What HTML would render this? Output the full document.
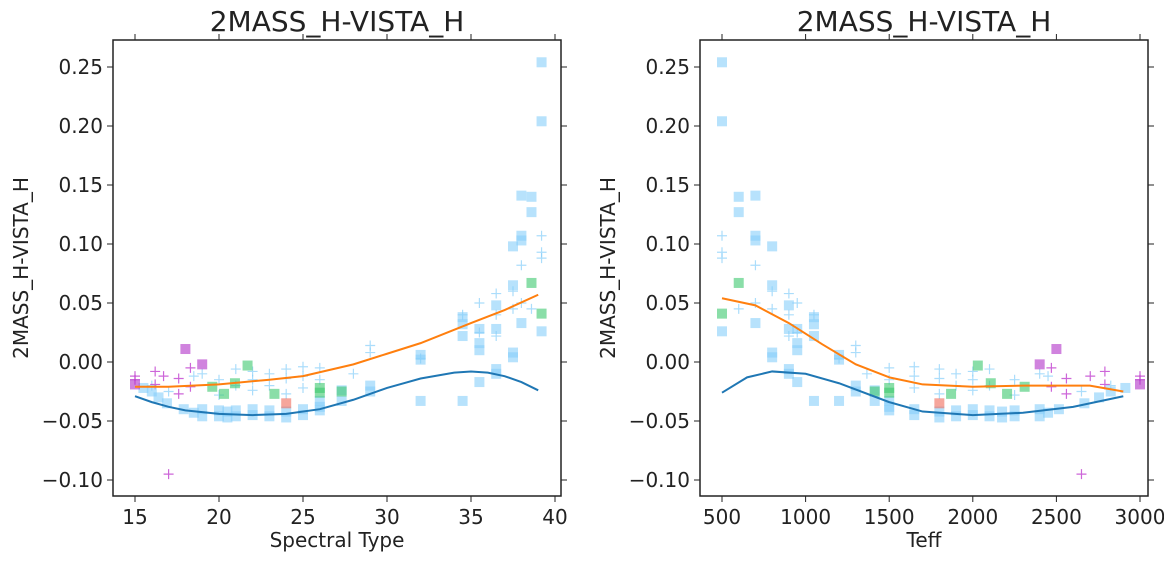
<!DOCTYPE html>
<html><head><meta charset="utf-8"><style>
body{margin:0;background:#fff;}
svg text{font-family:"DejaVu Sans","Liberation Sans",sans-serif;fill:#222;}
</style></head><body>
<svg id="chart" width="1164" height="560" xmlns="http://www.w3.org/2000/svg"></svg>
<script>
// ---- data (left panel: spectral type) ----
const sqSpt = [15.5,16,16.4,16.9,17.9,18.5,19,19,20,20,20.5,20.5,21,21,22,22,23,23,24,24,25,25,26,26,26,27.3,27.3,29,29,32,32,32,34.5,34.5,34.5,34.5,35.5,35.5,35.5,35.5,36.5,36.5,36.5,36.5,37.5,37.5,37.5,37.5,38,38,38,38,38.6,38.6,39.2,39.2,39.2];
const sqVal = [-0.022,-0.025,-0.03,-0.035,-0.04,-0.043,-0.04,-0.046,-0.041,-0.046,-0.042,-0.047,-0.041,-0.046,-0.04,-0.045,-0.041,-0.046,-0.042,-0.047,-0.04,-0.045,-0.033,-0.038,-0.041,-0.024,-0.033,-0.02,-0.025,0.006,0.002,-0.033,0.038,0.032,0.022,-0.033,0.028,0.016,0.01,-0.017,0.048,0.028,-0.006,-0.01,0.098,0.065,0.008,0.004,0.141,0.107,0.103,0.033,0.14,0.127,0.254,0.204,0.026];
const grSpt = [19.6,20.3,20.95,21.7,23.3,26,26,27.3,38.6,39.2];
const grVal = [-0.021,-0.027,-0.018,-0.003,-0.027,-0.022,-0.026,-0.025,0.067,0.041];
const mgSpt = [15,18,19];
const mgVal = [-0.019,0.011,-0.002];
const rdSpt = [24];
const rdVal = [-0.035];
const plSpt = [16,17,18.5,19,20,20,21,21,22,22,22,23,23,24,24,24,25,25,25,26,26,28,29,29,32,34.5,35.5,35.5,36.5,36.5,36.5,37.5,37.5,38,38,38.6,39.2,39.2,39.2];
const plVal = [-0.02,-0.025,-0.012,-0.01,-0.015,-0.028,-0.006,-0.02,-0.008,-0.015,-0.024,-0.01,-0.02,-0.006,-0.014,-0.027,-0.004,-0.012,-0.022,-0.015,-0.005,-0.01,0.014,0.008,0.003,0.04,0.05,0.025,0.058,0.04,0.022,0.06,0.045,0.082,0.05,0.045,0.107,0.093,0.088];
const pmSpt = [15,15,16.2,16.2,16.7,17.6,17.6,18.3,18.3,17];
const pmVal = [-0.015,-0.012,-0.008,-0.019,-0.012,-0.014,-0.027,-0.005,-0.021,-0.095];
const blueSpt = [15,16,17,18,20,22,24,26,28,30,32,34,35,36,37,38,39];
const blueVal = [-0.029,-0.034,-0.038,-0.041,-0.044,-0.045,-0.044,-0.04,-0.032,-0.022,-0.014,-0.009,-0.008,-0.009,-0.012,-0.017,-0.024];
const orSpt = [15,17,20,23,25,28,30,32,35,37,39];
const orVal = [-0.021,-0.021,-0.019,-0.015,-0.012,-0.002,0.007,0.016,0.033,0.044,0.057];
// spectral type -> Teff lookup
const sptGrid = [15,17,18,19,20,21,22,24,26,29,32,34.5,35.5,36.5,37.5,38,38.6,39.2];
const teffGrid = [3000,2650,2500,2400,2250,2100,2000,1800,1500,1300,1200,1050,950,900,800,700,600,500];
// right panel lines
const blueTeff = [500,650,800,1000,1200,1500,1700,2000,2300,2600,2900];
const blueTVal = [-0.026,-0.013,-0.008,-0.01,-0.018,-0.034,-0.042,-0.045,-0.043,-0.038,-0.029];
const orTeff = [500,700,900,1100,1300,1500,1700,2000,2300,2700,2900];
const orTVal = [0.054,0.048,0.033,0.015,-0.002,-0.013,-0.019,-0.021,-0.02,-0.02,-0.025];
const yTicks = [0.25,0.20,0.15,0.10,0.05,0.00,-0.05,-0.10];
const yTickLabels = ["0.25","0.20","0.15","0.10","0.05","0.00","\u22120.05","\u22120.10"];
const xTicksL = [15,20,25,30,35,40];
const xTicksR = [500,1000,1500,2000,2500,3000];

const NS="http://www.w3.org/2000/svg";
const svg=document.getElementById('chart');
function mk(t,a,p){const e=document.createElementNS(NS,t);for(const k in a)e.setAttribute(k,a[k]);(p||svg).appendChild(e);return e;}
function toTeff(s){for(let i=0;i<sptGrid.length-1;i++){if(s<=sptGrid[i+1]){const f=(s-sptGrid[i])/(sptGrid[i+1]-sptGrid[i]);return teffGrid[i]+f*(teffGrid[i+1]-teffGrid[i]);}}return teffGrid[teffGrid.length-1];}
const yS=v=>362-v*1180;
function panel(name,x0,x1,xs,xticks,xlabel,conv,lb,lo){
  const g=mk('g',{});
  
  
  const t=mk('text',{x:(x0+x1)/2,y:31,'text-anchor':'middle','font-size':28},g);t.textContent='2MASS_H-VISTA_H';
  
  const sq=(arr,vals,fill,op,nm)=>arr.forEach((s,i)=>{const r=mk('rect',{x:xs(conv(s))-5,y:yS(vals[i])-5,width:10,height:10,fill:fill,'fill-opacity':op},g);
    });
  const pl=(arr,vals,col,op,nm)=>arr.forEach((s,i)=>{const x=xs(conv(s)),y=yS(vals[i]);const p=mk('path',{d:`M${x-5},${y}H${x+5}M${x},${y-5}V${y+5}`,stroke:col,'stroke-opacity':op,'stroke-width':1.2,fill:'none'},g);
    });
  pl(plSpt,plVal,'#87cefa',0.7,'plus-point');
  pl(pmSpt,pmVal,'#c040d0',0.8,'plus-point-magenta');
  sq(sqSpt,sqVal,'#87cefa',0.6,'square-point');
  sq(grSpt,grVal,'#3cc86e',0.6,'square-point-green');
  sq(mgSpt,mgVal,'#b030c8',0.6,'square-point-magenta');
  sq(rdSpt,rdVal,'#f06a5a',0.6,'square-point-red');
  const line=(xsA,ys,col,nm)=>{const p=mk('polyline',{points:xsA.map((v,i)=>xs(v)+','+yS(ys[i])).join(' '),fill:'none',stroke:col,'stroke-width':2},g);
    };
  line(lb[0],lb[1],'#1f77b4','fit-line-blue');
  line(lo[0],lo[1],'#ff7f0e','fit-line-orange');
  mk('rect',{x:x0,y:40,width:x1-x0,height:456,fill:'none',stroke:'#222','stroke-width':1.5},g);
  yTicks.forEach((v,i)=>{const y=yS(v);mk('line',{x1:x0-6,x2:x0,y1:y,y2:y,stroke:'#222'},g);mk('line',{x1:x1,x2:x1+6,y1:y,y2:y,stroke:'#222'},g);
    const tt=mk('text',{x:x0-10,y:y+7,'text-anchor':'end','font-size':20},g);tt.textContent=yTickLabels[i];
    });
  xticks.forEach(v=>{const x=xs(v);mk('line',{x1:x,x2:x,y1:496,y2:502,stroke:'#222'},g);mk('line',{x1:x,x2:x,y1:34,y2:40,stroke:'#222'},g);
    const tt=mk('text',{x:x,y:524,'text-anchor':'middle','font-size':20},g);tt.textContent=String(v);
    });
  const xl=mk('text',{x:(x0+x1)/2,y:547,'text-anchor':'middle','font-size':20},g);xl.textContent=xlabel;
  
  const yl=mk('text',{x:0,y:0,'text-anchor':'middle','font-size':20,transform:`translate(${x0-85},268) rotate(-90)`},g);yl.textContent='2MASS_H-VISTA_H';
  
}
panel('left-panel',113,561,v=>135+(v-15)*16.8,xTicksL,'Spectral Type',s=>s,[blueSpt,blueVal],[orSpt,orVal]);
panel('right-panel',700,1148,v=>722+(v-500)*0.1672,xTicksR,'Teff',toTeff,[blueTeff,blueTVal],[orTeff,orTVal]);
</script>
</body></html>
